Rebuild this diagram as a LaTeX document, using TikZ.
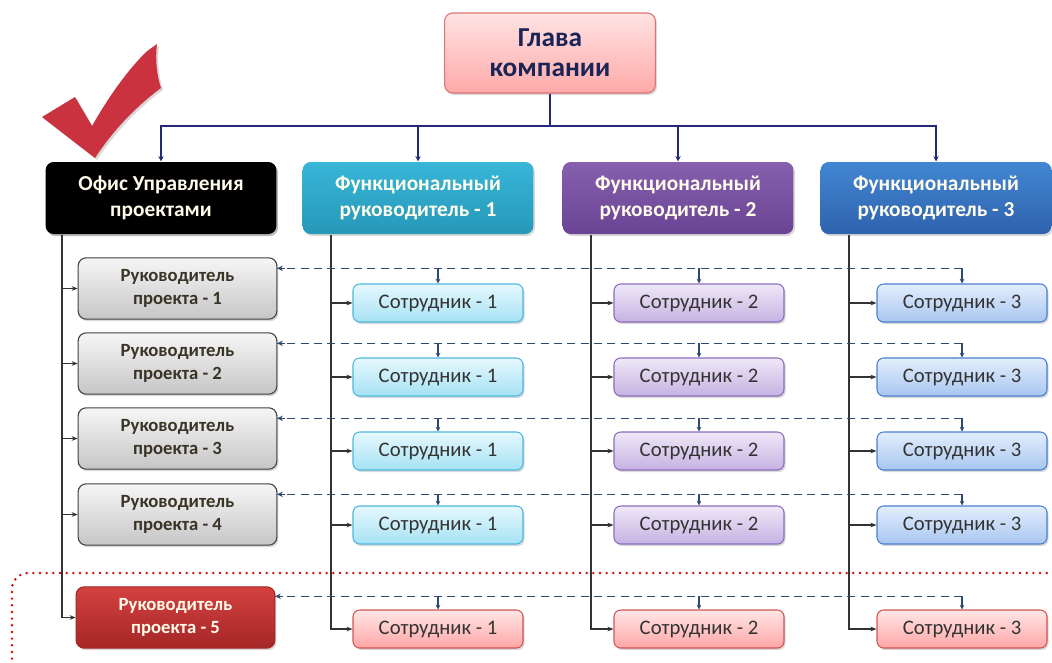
\documentclass[tikz,border=0pt]{standalone}
\usepackage{fontspec}
\setmainfont{Carlito}
\usetikzlibrary{arrows.meta,shadows,calc}

\definecolor{headtop}{HTML}{FFE3E3}
\definecolor{headbot}{HTML}{FFA9A9}
\definecolor{headline}{HTML}{DD7272}
\definecolor{navy}{HTML}{1A2456}
\definecolor{busc}{HTML}{252A78}
\definecolor{fonetop}{HTML}{38B6D8}
\definecolor{fonebot}{HTML}{2698B8}
\definecolor{ftwotop}{HTML}{8660AE}
\definecolor{ftwobot}{HTML}{6A4494}
\definecolor{fthreetop}{HTML}{4286D2}
\definecolor{fthreebot}{HTML}{2E62AE}
\definecolor{prjtop}{HTML}{F6F6F6}
\definecolor{prjbot}{HTML}{C6C6C6}
\definecolor{prjtext}{HTML}{3A3426}
\definecolor{redtop}{HTML}{D44141}
\definecolor{redbot}{HTML}{A52626}
\definecolor{sonetop}{HTML}{E6F8FE}
\definecolor{sonebot}{HTML}{A6E2F4}
\definecolor{soneline}{HTML}{4CB8DC}
\definecolor{stwotop}{HTML}{EEE8F7}
\definecolor{stwobot}{HTML}{C6B2E2}
\definecolor{stwoline}{HTML}{8C6CBC}
\definecolor{sthreetop}{HTML}{E4EEFC}
\definecolor{sthreebot}{HTML}{A8C6F0}
\definecolor{sthreeline}{HTML}{4A7ED0}
\definecolor{sredtop}{HTML}{FFE6E6}
\definecolor{sredbot}{HTML}{FFA6A6}
\definecolor{sredline}{HTML}{D25454}
\definecolor{dashc}{HTML}{2E4A70}
\definecolor{checkc}{HTML}{C9323E}
\definecolor{cream}{HTML}{FFFBEA}

\tikzset{
  box/.style={rounded corners=6pt, align=center, inner sep=0pt, line width=0.8pt,
    drop shadow={opacity=0.3, shadow xshift=1.2pt, shadow yshift=-1.5pt}},
  headbox/.style={box, draw=headline, top color=headtop, bottom color=headbot,
    minimum width=158pt, minimum height=60pt, text=navy,
    font=\fontsize{20.5}{22.5}\selectfont\bfseries},
  topbox/.style={box, minimum width=173pt, minimum height=54pt, text=cream,
    font=\fontsize{16}{19.5}\selectfont\bfseries},
  prjbox/.style={box, draw=black!75, top color=prjtop, bottom color=prjbot,
    minimum width=149pt, minimum height=46pt, text=prjtext,
    font=\fontsize{14}{17}\selectfont\bfseries},
  staffbox/.style={box, rounded corners=5pt, minimum width=127.5pt, minimum height=28.5pt,
    text=black!80, font=\fontsize{15.5}{18}\selectfont},
  sone/.style={staffbox, draw=soneline, top color=sonetop, bottom color=sonebot},
  stwo/.style={staffbox, draw=stwoline, top color=stwotop, bottom color=stwobot},
  sthree/.style={staffbox, draw=sthreeline, top color=sthreetop, bottom color=sthreebot},
  sred/.style={staffbox, draw=sredline, top color=sredtop, bottom color=sredbot},
  bus/.style={draw=busc, line width=2.2pt},
  bustip/.style={-{Stealth[length=4pt,width=4pt]}},
  vline/.style={draw=black!80, line width=1.1pt},
  vtip/.style={-{Stealth[length=4.5pt,width=3.5pt]}},
  dashline/.style={draw=dashc, line width=1pt, dash pattern=on 6pt off 4pt},
  droptip/.style={draw=dashc, line width=0.8pt, -{Stealth[length=3.5pt,width=3.5pt]}},
}

\begin{document}
\begin{tikzpicture}[x=0.75pt, y=-0.75pt]
\useasboundingbox (0,0) rectangle (1052,662);
\clip (0,0) rectangle (1052,662);

% check mark
\fill[checkc, drop shadow={opacity=0.3, shadow xshift=1.5pt, shadow yshift=-1.5pt}]
  (42,117) -- (75,97) -- (92,126)
  .. controls (108,98) and (126,72) .. (146,52)
  -- (157,44)
  .. controls (155,60) and (157,76) .. (161,88)
  .. controls (134,108) and (112,132) .. (95,158) -- cycle;

% head of the company
\node[headbox] (head) at (550,53) {Глава\\компании};

% top row
\node[topbox, fill=black, drop shadow={opacity=0.35, shadow xshift=1.2pt, shadow yshift=-1.5pt}]
  (pmo) at (161,198) {Офис Управления\\проектами};
\node[topbox, top color=fonetop, bottom color=fonebot] (f1) at (418,198) {Функциональный\\руководитель - 1};
\node[topbox, top color=ftwotop, bottom color=ftwobot] (f2) at (678,198) {Функциональный\\руководитель - 2};
\node[topbox, top color=fthreetop, bottom color=fthreebot] (f3) at (936,198) {Функциональный\\руководитель - 3};

% project managers
\node[prjbox] (p1) at (177.5,288.5) {Руководитель\\проекта - 1};
\node[prjbox] (p2) at (177.5,363.5) {Руководитель\\проекта - 2};
\node[prjbox] (p3) at (177.5,438.5) {Руководитель\\проекта - 3};
\node[prjbox] (p4) at (177.5,514.5) {Руководитель\\проекта - 4};
\node[prjbox, draw=redbot, top color=redtop, bottom color=redbot, text=cream] (p5) at (175.5,617.5) {Руководитель\\проекта - 5};

% staff
\foreach \r/\y in {1/303,2/377,3/451,4/525}{
  \node[sone]   (s1\r) at (438,\y) {Сотрудник - 1};
  \node[stwo]   (s2\r) at (699,\y) {Сотрудник - 2};
  \node[sthree] (s3\r) at (962,\y) {Сотрудник - 3};
}
\node[sred] (s15) at (438,629) {Сотрудник - 1};
\node[sred] (s25) at (699,629) {Сотрудник - 2};
\node[sred] (s35) at (962,629) {Сотрудник - 3};

% bus from the head
\coordinate (busy) at (0,126);
\draw[bus] (head.south) -- (head.south |- busy);
\draw[bus, {Stealth[length=4pt,width=4pt]}-{Stealth[length=4pt,width=4pt]}]
  (pmo.north) -- (pmo.north |- busy) -- (f3.north |- busy) -- (f3.north);
\draw[bus, bustip] (f1.north |- busy) -- (f1.north);
\draw[bus, bustip] (f2.north |- busy) -- (f2.north);

% project office line
\coordinate (pv) at ($(pmo.south west)+(17,0)$);
\draw[vline, vtip] (pv) |- (p5.west);
\foreach \i in {1,...,4}{
  \draw[vline, vtip] (pv |- p\i.west) -- (p\i.west);
}

% functional lines
\foreach \c in {1,2,3}{
  \coordinate (fv\c) at ($(f\c.south west)+(29,0)$);
  \draw[vline, vtip] (fv\c) |- (s\c5.west);
  \foreach \r in {1,...,4}{
    \draw[vline, vtip] (fv\c |- s\c\r.west) -- (s\c\r.west);
  }
}

% project links to the staff
\foreach \r/\d in {1/11,2/11,3/11,4/11,5/10}{
  \coordinate (dl\r) at ($(p\r.north east)+(0,\d)$);
  \draw[dashline] (s3\r.north |- dl\r) -- (dl\r);
  \draw[draw=dashc, line width=1pt, -{Stealth[length=4pt,width=4pt]}] ($(dl\r)+(8,0)$) -- (dl\r);
  \foreach \c in {1,2,3}{
    \draw[droptip] (s\c\r.north |- dl\r) -- (s\c\r.north);
  }
}

% highlighted row
\draw[draw=red!85!black, line width=2pt, line cap=round, dash pattern=on 0pt off 5pt, rounded corners=12pt]
  (1060,573) -- (12,573) -- (12,680);
\end{tikzpicture}
\end{document}
